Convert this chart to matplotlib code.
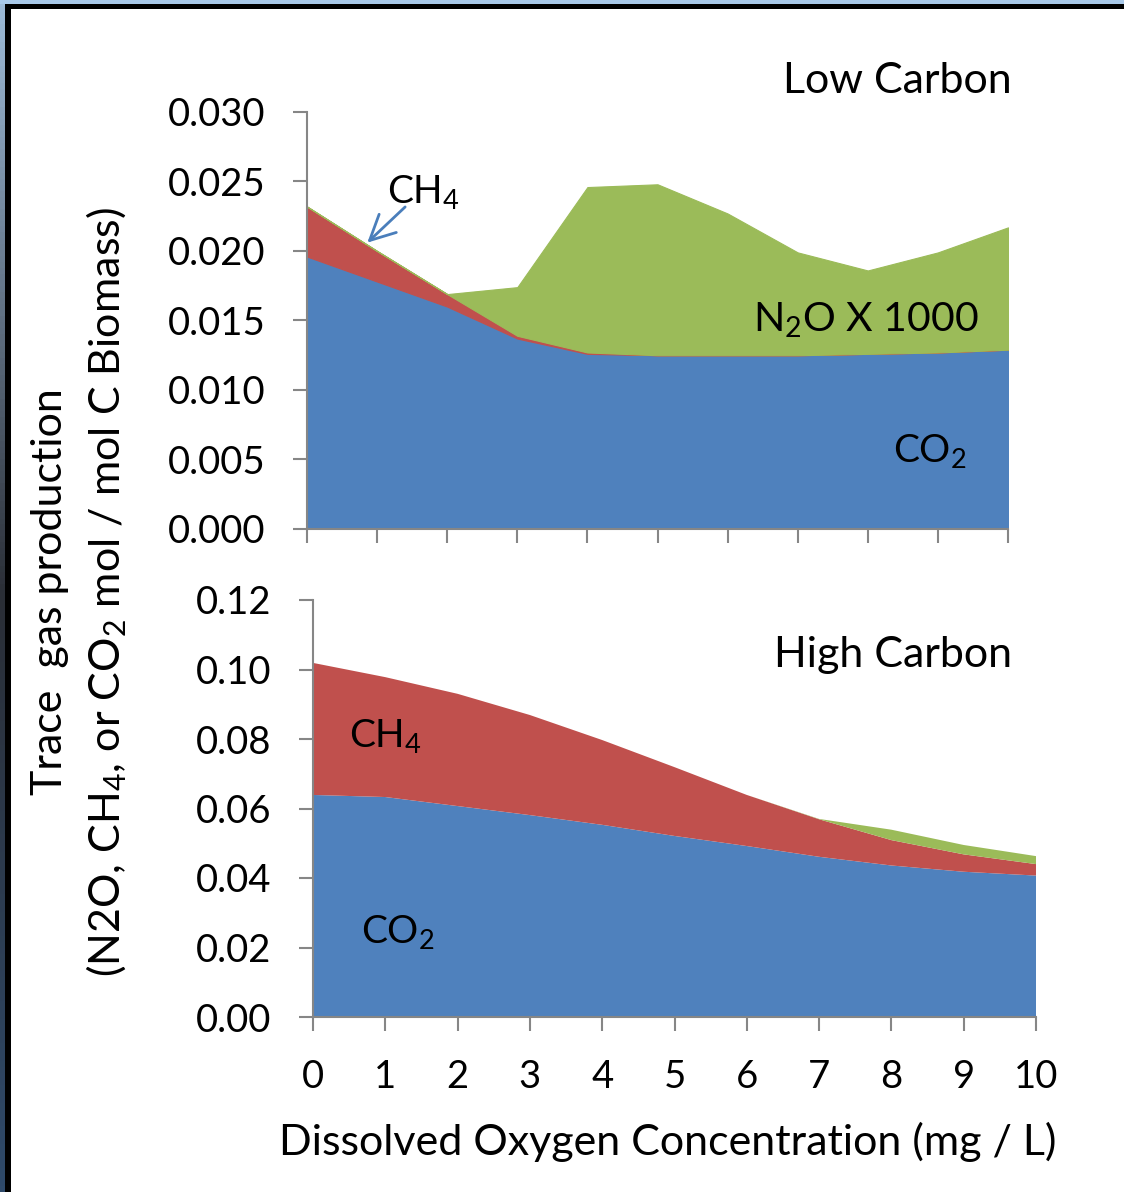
import numpy as np
import matplotlib
matplotlib.use('Agg')
import matplotlib.pyplot as plt
from matplotlib.patches import Rectangle

# 字体设置
plt.rcParams['font.family'] = ['Lato', 'DejaVu Sans']
plt.rcParams['mathtext.fontset'] = 'custom'
plt.rcParams['mathtext.rm'] = 'Lato'
plt.rcParams['mathtext.it'] = 'Lato'
plt.rcParams['mathtext.bf'] = 'Lato'

# 溶解氧浓度 (mg/L)
do_conc = [0, 1, 2, 3, 4, 5, 6, 7, 8, 9, 10]

# Low Carbon
low_co2 = [0.0196, 0.0178, 0.0160, 0.0137, 0.0126, 0.0125, 0.0125, 0.0125, 0.0126, 0.0127, 0.0129]
low_ch4 = [0.0036, 0.0022, 0.0009, 0.0002, 0.0001, 0.0000, 0.0000, 0.0000, 0.0000, 0.0000, 0.0000]
low_n2o = [0.0000, 0.0000, 0.0000, 0.0035, 0.0119, 0.0123, 0.0102, 0.0074, 0.0060, 0.0072, 0.0088]

# High Carbon
high_co2 = [0.0639, 0.0633, 0.0607, 0.0581, 0.0553, 0.0521, 0.0492, 0.0461, 0.0436, 0.0418, 0.0407]
high_ch4 = [0.0380, 0.0345, 0.0323, 0.0288, 0.0244, 0.0198, 0.0147, 0.0108, 0.0073, 0.0050, 0.0033]
high_n2o = [0.0000, 0.0000, 0.0000, 0.0000, 0.0000, 0.0000, 0.0000, 0.0001, 0.0030, 0.0027, 0.0023]

colors = ['#4F81BD', '#C0504D', '#9BBB59']
axis_gray = '#868686'
fs_tick = 27.5   # 刻度
fs_mark = 28     # 气体标注
fs_label = 31    # 标题和坐标轴名

W, H = 1124, 1192
fig = plt.figure(figsize=(W / 100, H / 100), dpi=100)
fig.patch.set_facecolor('white')

# 幻灯片边框
bg = fig.add_axes([0, 0, 5 / W, 1])
grad = np.linspace(0, 1, 200).reshape(-1, 1)
bg.imshow(grad, aspect='auto', cmap=matplotlib.colors.LinearSegmentedColormap.from_list(
    'bg', ['#9dbbd8', '#2a2e36', '#2f4a6a']), extent=[0, 1, 0, 1])
bg.axis('off')
fig.add_artist(Rectangle((0, 1 - 4 / H), 1, 4 / H, transform=fig.transFigure, color='#a9c9e9', lw=0))
fig.add_artist(Rectangle((5 / W, 1 - 9 / H), 1, 5 / H, transform=fig.transFigure, color='black', lw=0))
fig.add_artist(Rectangle((5 / W, 0), 6 / W, 1 - 4 / H, transform=fig.transFigure, color='black', lw=0))


def style_axes(ax, ymax, ystep, fmt, show_xlabels):
    ax.set_xlim(0, 10)
    ax.set_ylim(0, ymax)
    ax.set_xticks(do_conc)
    ticks = np.arange(0, ymax + ystep / 2, ystep)
    ax.set_yticks(ticks)
    ax.set_yticklabels([fmt.format(v) for v in ticks])
    for s in ['top', 'right']:
        ax.spines[s].set_visible(False)
    for s in ['left', 'bottom']:
        ax.spines[s].set_color(axis_gray)
        ax.spines[s].set_linewidth(1.5)
    ax.tick_params(axis='both', direction='out', length=10, width=1.5, color=axis_gray,
                   labelsize=fs_tick, labelcolor='black', pad=20)
    if not show_xlabels:
        ax.set_xticklabels([])
    ax.set_facecolor('none')


# 上图: Low Carbon
ax1 = fig.add_axes([307 / W, 1 - 529 / H, 701 / W, 417 / H])
ax1.stackplot(do_conc, low_co2, low_ch4, low_n2o, colors=colors, edgecolor='face', linewidth=0.8)
style_axes(ax1, 0.030, 0.005, '{:.3f}', False)
ax1.annotate('', xy=(0.86, 0.0206), xytext=(1.40, 0.02317),
             arrowprops=dict(arrowstyle='->, head_length=0.6, head_width=0.3', color='#4a7ebb',
                             lw=2, mutation_scale=30, shrinkA=0, shrinkB=0))

# 下图: High Carbon
ax2 = fig.add_axes([313 / W, 1 - 1017 / H, 723 / W, 417 / H])
ax2.stackplot(do_conc, high_co2, high_ch4, high_n2o, colors=colors, linewidth=0)
style_axes(ax2, 0.12, 0.02, '{:.2f}', True)

# 文字标注
fig.text(1012 / W, 1 - 93 / H, 'Low Carbon', ha='right', va='baseline', fontsize=fs_label)
fig.text(387 / W, 1 - 203 / H, r'CH$_\mathregular{4}$', ha='left', va='baseline', fontsize=fs_mark)
fig.text(753 / W, 1 - 332 / H, r'N$_\mathregular{2}$O X 1000', ha='left', va='baseline', fontsize=29.5)
fig.text(893 / W, 1 - 462 / H, r'CO$_\mathregular{2}$', ha='left', va='baseline', fontsize=fs_mark)
fig.text(1012 / W, 1 - 667 / H, 'High Carbon', ha='right', va='baseline', fontsize=fs_label)
fig.text(349 / W, 1 - 747 / H, r'CH$_\mathregular{4}$', ha='left', va='baseline', fontsize=fs_mark)
fig.text(361 / W, 1 - 943 / H, r'CO$_\mathregular{2}$', ha='left', va='baseline', fontsize=fs_mark)

fig.text(668 / W, 1 - 1155 / H, 'Dissolved Oxygen Concentration (mg / L)', ha='center', va='baseline',
         fontsize=fs_label)
fig.text(50 / W, 1 - 592 / H, 'Trace  gas production', rotation=90, ha='center', va='center',
         fontsize=fs_label)
fig.text(107 / W, 1 - 592 / H, r'(N2O, CH$_\mathregular{4}$, or CO$_\mathregular{2}$ mol / mol C Biomass)',
         rotation=90, ha='center', va='center', fontsize=fs_label)

fig.savefig('out.png', dpi=100, facecolor='white')
